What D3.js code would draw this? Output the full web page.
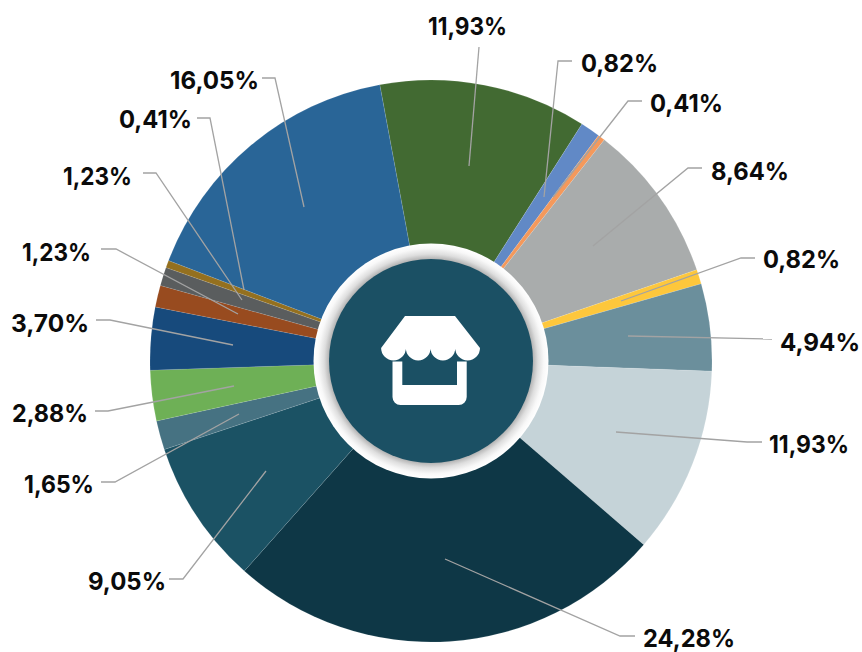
<!DOCTYPE html>
<html>
<head>
<meta charset="utf-8">
<script src="https://cdn.jsdelivr.net/npm/d3@7"></script>
<style>
  html, body { margin: 0; padding: 0; background: #fff; }
  svg { display: block; }
  .label { font-family: Inter, "Open Sans", sans-serif; font-weight: 700; font-size: 24.5px; fill: #0b0b0b; }
  .leader { fill: none; stroke: #a3a3a3; stroke-width: 1.3; }
</style>
</head>
<body>
<svg id="chart" width="862" height="652"></svg>
<script>
// printed percentages, clockwise from the dark green slice
const labels = ["11,93%", "0,82%", "0,41%", "8,64%", "0,82%", "4,94%", "11,93%", "24,28%",
  "9,05%", "1,65%", "2,88%", "3,70%", "1,23%", "1,23%", "0,41%", "16,05%"];
// slice sizes as drawn in the picture (they differ a little from the printed ones)
const shares = [11.93, 1.14, 0.41, 9.15, 0.83, 5.0, 10.75, 25.2,
  8.33, 1.67, 2.9, 3.6, 1.25, 1.06, 0.42, 16.25];
const colors = ["#426a32", "#6189c6", "#f4995c", "#a9acac", "#fdc73c", "#6b8f9c", "#c5d3d8", "#0e3746",
  "#1b5264", "#467282", "#6eb056", "#174a7c", "#984b1f", "#5a5d5e", "#94701f", "#296597"];

// leader lines and text spots, page pixels
const leaders = [
  [[469, 166], [479, 47]],
  [[544, 197], [558, 61], [572, 61]],
  [[553, 197], [628, 101], [642, 101]],
  [[593, 246], [688, 168], [702, 168]],
  [[621, 301], [741, 258], [755, 258]],
  [[628, 336], [772, 339]],
  [[616, 432], [747, 442], [762, 442]],
  [[445, 559], [620, 636], [635, 636]],
  [[266, 471], [183, 579], [169, 579]],
  [[239, 414], [115, 482], [101, 482]],
  [[234, 386], [108, 411], [95, 411]],
  [[233, 345], [110, 320], [96, 320]],
  [[238, 314], [116, 249], [101, 249]],
  [[242, 300], [156, 173], [143, 173]],
  [[244, 290], [210, 118], [197, 118]],
  [[304, 207], [275, 78], [262, 78]]
];
// x, baseline, anchor, text width
const textSpots = [
  [467.5, 35, "middle", 79], [581, 72, "start", 77], [650, 112, "start", 73], [711, 180, "start", 78],
  [763, 268, "start", 77], [780, 351, "start", 80], [769, 453, "start", 80], [643, 647, "start", 92],
  [166, 590, "end", 78], [94, 493, "end", 70], [88, 422, "end", 76], [89, 332, "end", 78],
  [91, 261, "end", 69], [132, 185, "end", 69], [192, 128, "end", 73], [259, 89, "end", 89]
];

const cx = 431, cy = 361, outerR = 281, ringR = 117.5, hubR = 102;
const startAngle = -10.5 * Math.PI / 180;

const svg = d3.select("#chart");

const grad = svg.append("defs").append("radialGradient")
  .attr("id", "ring").attr("gradientUnits", "userSpaceOnUse")
  .attr("cx", 0).attr("cy", 0).attr("r", ringR);
[[hubR / ringR, "#b4b4b4"], [0.91, "#dedede"], [0.96, "#f8f8f8"], [1, "#ffffff"]].forEach((s) => {
  grad.append("stop").attr("offset", s[0]).attr("stop-color", s[1]);
});

const pie = d3.pie().sort(null).startAngle(startAngle).endAngle(startAngle + 2 * Math.PI);
const arc = d3.arc().innerRadius(0).outerRadius(outerR);

const g = svg.append("g").attr("transform", `translate(${cx}, ${cy})`);

g.selectAll("path.slice")
  .data(pie(shares))
  .enter()
  .append("path")
  .attr("class", "slice")
  .attr("d", arc)
  .attr("fill", (_, i) => colors[i])
  .attr("stroke", "#fff")
  .attr("stroke-opacity", 0.25)
  .attr("stroke-width", 0.4);

const line = d3.line();
svg.selectAll("path.leader")
  .data(leaders)
  .enter()
  .append("path")
  .attr("class", "leader")
  .attr("d", (d) => line(d));

g.append("circle").attr("r", ringR).attr("fill", "url(#ring)");
g.append("circle").attr("r", hubR).attr("fill", "#1b5064");

// shop icon
const roof = d3.path();
roof.moveTo(-26, -45);
roof.lineTo(24, -45);
roof.lineTo(49, -13);
roof.arc(36.6, -13, 12.4, 0, Math.PI);
roof.arc(11.9, -13, 12.4, 0, Math.PI);
roof.arc(-12.8, -13, 12.4, 0, Math.PI);
roof.arc(-37.5, -13, 12.4, 0, Math.PI);
roof.closePath();
g.append("path").attr("d", roof.toString()).attr("fill", "#fff");

const body = d3.path();
body.moveTo(-38.5, 0.5);
body.lineTo(-28.7, 0.5);
body.lineTo(-28.7, 24);
body.lineTo(26, 24);
body.lineTo(26, 0.5);
body.lineTo(35.7, 0.5);
body.lineTo(35.7, 36);
body.arcTo(35.7, 44, 27.7, 44, 8);
body.lineTo(-30.5, 44);
body.arcTo(-38.5, 44, -38.5, 36, 8);
body.closePath();
g.append("path").attr("d", body.toString()).attr("fill", "#fff");

svg.selectAll("text.label")
  .data(labels)
  .enter()
  .append("text")
  .attr("class", "label")
  .attr("x", (_, i) => textSpots[i][0])
  .attr("y", (_, i) => textSpots[i][1])
  .attr("text-anchor", (_, i) => textSpots[i][2])
  .attr("textLength", (_, i) => textSpots[i][3])
  .attr("lengthAdjust", "spacingAndGlyphs")
  .text((d) => d);
</script>
</body>
</html>
